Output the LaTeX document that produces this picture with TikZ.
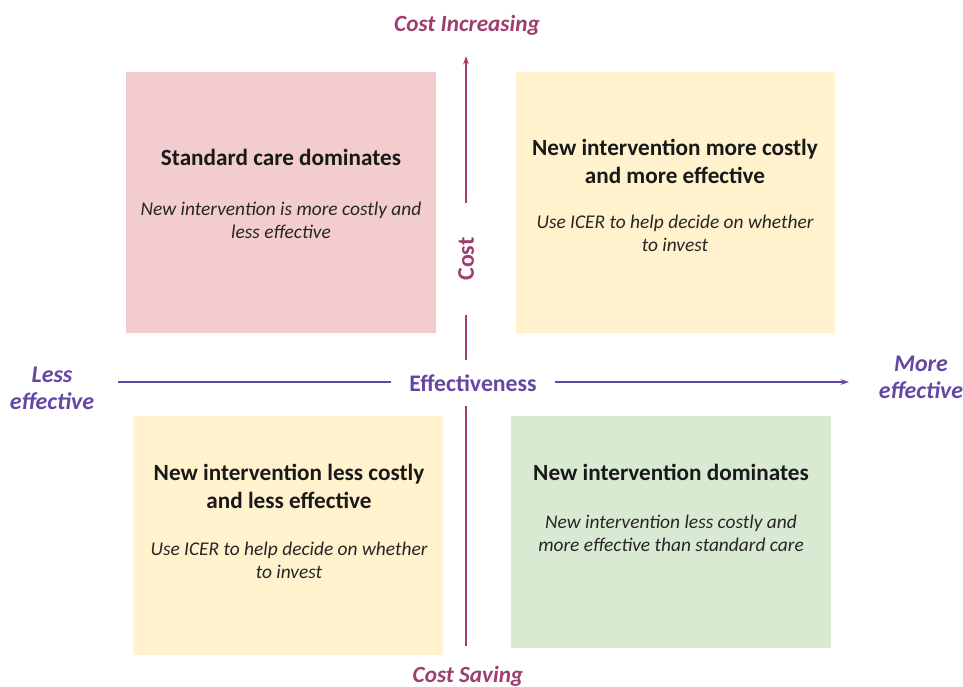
\documentclass[tikz,border=0pt]{standalone}
\usepackage{fontspec}
\setmainfont{Carlito}
\usetikzlibrary{calc,arrows.meta}

\definecolor{costpink}{RGB}{242,204,206}
\definecolor{costyellow}{RGB}{255,242,204}
\definecolor{costgreen}{RGB}{217,234,211}
\definecolor{costaxis}{RGB}{158,62,112}
\definecolor{effaxis}{RGB}{100,70,165}

\newcommand{\pxu}{0.025cm}

\tikzset{
  quadbox/.style={rectangle, inner sep=0pt, draw=none},
  quadtitle/.style={align=center, font=\bfseries\fontsize{16.5}{20}\selectfont, text=black!90},
  quadbody/.style={align=center, font=\itshape\fontsize{13.8}{16.4}\selectfont, text=black!85},
  costlabel/.style={text=costaxis, font=\bfseries\itshape\fontsize{16.5}{19}\selectfont},
  efflabel/.style={text=effaxis, font=\bfseries\itshape\fontsize{17}{19.2}\selectfont, align=center},
  axisline/.style={line width=0.9pt, -{Stealth[length=6pt, width=4pt]}}
}

\begin{document}
\begin{tikzpicture}[x=\pxu, y=-\pxu]
    \useasboundingbox (0,0) rectangle (963,686);

    % Quadrant boxes
    \node[quadbox, fill=costpink, minimum width=310*\pxu, minimum height=261*\pxu] (tlbox) at (281,202.5) {};
    \node[quadbox, fill=costyellow, minimum width=319*\pxu, minimum height=261*\pxu] (trbox) at (675.5,202.5) {};
    \node[quadbox, fill=costyellow, minimum width=310*\pxu, minimum height=239*\pxu] (blbox) at (288,535.5) {};
    \node[quadbox, fill=costgreen, minimum width=320*\pxu, minimum height=232*\pxu] (brbox) at (671,532) {};

    % Box texts
    \node[quadtitle] (tltitle) at (281,157) {Standard care dominates};
    \node[quadbody] (tlbody) at (281,220) {New intervention is more costly and\\less effective};

    \node[quadtitle] (trtitle) at (675,161) {New intervention more costly\\and more effective};
    \node[quadbody] (trbody) at (675,233) {Use ICER to help decide on whether\\to invest};

    \node[quadtitle] (bltitle) at (289,486) {New intervention less costly\\and less effective};
    \node[quadbody] (blbody) at (289,560) {Use ICER to help decide on whether\\to invest};

    \node[quadtitle] (brtitle) at (671,472) {New intervention dominates};
    \node[quadbody] (brbody) at (671,533) {New intervention less costly and\\more effective than standard care};

    % Cost axis (vertical)
    \node[costlabel] (costup) at (467,25) {Cost Increasing};
    \node[costlabel] (costdown) at (468,676) {Cost Saving};
    \node[text=costaxis, font=\bfseries\fontsize{17}{20}\selectfont, rotate=90, inner xsep=34*\pxu] (cost) at (466,259) {Cost};
    \coordinate (ytop) at (466,56);
    \coordinate (ybot) at (466,646);

    % Effectiveness axis (horizontal)
    \node[text=effaxis, font=\bfseries\fontsize{16.9}{19}\selectfont, inner xsep=18*\pxu, inner ysep=14*\pxu] (eff) at (473,383) {Effectiveness};
    \node[efflabel] (effless) at (52,388) {Less\\effective};
    \node[efflabel] (effmore) at (921,377) {More\\effective};
    \coordinate (xleft) at (118,382);
    \coordinate (xright) at (849,382);

    % Axis lines
    \draw[axisline, costaxis] (cost.east) -- (ytop);
    \draw[line width=0.9pt, costaxis] (cost.west) -- (cost.west |- eff.north);
    \draw[line width=0.9pt, costaxis] (cost.west |- eff.south) -- (ybot);
    \draw[line width=0.9pt, effaxis] (xleft) -- (eff.west |- xleft);
    \draw[axisline, effaxis] (eff.east |- xright) -- (xright);
\end{tikzpicture}
\end{document}
